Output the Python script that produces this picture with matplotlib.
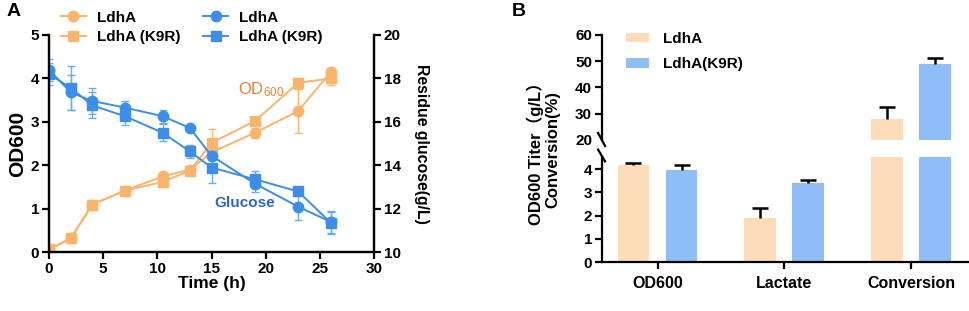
import matplotlib
matplotlib.use('Agg')
import matplotlib.pyplot as plt
from matplotlib.lines import Line2D
from matplotlib.patches import Patch
import numpy as np

plt.rcParams['font.family'] = ['Liberation Sans', 'Noto Sans CJK SC']
plt.rcParams['font.weight'] = 'bold'
plt.rcParams['mathtext.default'] = 'regular'

# ---- Panel A data: growth (OD600) and residual glucose ----
time_h = [0, 2, 4, 7, 10.5, 13, 15, 19, 23, 26]
od_ldha = [0.07, 0.32, 1.1, 1.42, 1.75, 1.9, 2.3, 2.75, 3.25, 4.15]
od_ldha_err = [0.03, 0.05, 0.04, 0.05, 0.06, 0.06, 0.1, 0.12, 0.5, 0.1]
od_k9r = [0.07, 0.32, 1.1, 1.42, 1.62, 1.88, 2.52, 3.02, 3.9, 4.0]
od_k9r_err = [0.03, 0.05, 0.04, 0.05, 0.06, 0.1, 0.32, 0.08, 0.12, 0.15]

glc_ldha = [18.4, 17.36, 16.96, 16.66, 16.26, 15.72, 14.44, 13.16, 12.1, 11.4]
glc_ldha_err = [0.5, 0.8, 0.6, 0.3, 0.3, 0.1, 0.2, 0.4, 0.6, 0.5]
glc_k9r = [18.2, 17.56, 16.76, 16.26, 15.5, 14.64, 13.9, 13.36, 12.8, 11.36]
glc_k9r_err = [0.5, 1.0, 0.6, 0.4, 0.4, 0.3, 0.7, 0.4, 0.1, 0.5]

# ---- Panel B data ----
categories = ['OD600', 'Lactate', 'Conversion']
bar_ldha = [4.17, 1.91, 28.0]
bar_ldha_err = [0.1, 0.4, 4.4]
bar_k9r = [3.96, 3.39, 48.8]
bar_k9r_err = [0.22, 0.13, 2.5]

orange = '#FBB46C'
blue = '#3D8EEB'
peach = '#FDDDB9'
lightblue = '#8EBEF5'

fig = plt.figure(figsize=(9.69, 3.11), dpi=100)

# ================= Panel A =================
ax = fig.add_axes([0.0506, 0.1887, 0.3354, 0.6988])
ax2 = ax.twinx()

for y, e, m in [(od_ldha, od_ldha_err, 'o'), (od_k9r, od_k9r_err, 's')]:
    ax.errorbar(time_h, y, yerr=e, color=orange, marker=m, markersize=7.5,
                linewidth=1.4, elinewidth=1, capsize=3, capthick=1, ecolor=orange)
for y, e, m in [(glc_ldha, glc_ldha_err, 'o'), (glc_k9r, glc_k9r_err, 's')]:
    ax2.errorbar(time_h, y, yerr=e, color=blue, marker=m, markersize=7.5,
                 linewidth=1.4, elinewidth=1, capsize=3, capthick=1,
                 ecolor='#6FAAF0')

ax.set_xlim(0, 30)
ax.set_ylim(0, 5)
ax2.set_ylim(10, 20)
ax.set_xticks(range(0, 31, 5))
ax.set_yticks(range(0, 6))
ax2.set_yticks(range(10, 21, 2))
for a in (ax, ax2):
    for s in a.spines.values():
        s.set_linewidth(1.6)
    a.spines['top'].set_visible(False)
    a.tick_params(width=1.6, length=5, labelsize=11, pad=2)
ax.set_xlabel('Time (h)', fontsize=12.5, fontweight='bold', labelpad=0)
ax.set_ylabel('OD600', fontsize=15, fontweight='bold', labelpad=3)
ax2.set_ylabel('Residue glucose(g/L)', fontsize=11.4, fontweight='bold',
               rotation=270, labelpad=20)

ax.text(17.4, 3.74, 'OD$_{600}$', color='#F08030', fontsize=12,
        fontweight='normal', va='center', ha='left')
ax.text(15.3, 1.14, 'Glucose', color='#2F64C8', fontsize=11,
        fontweight='bold', va='center', ha='left')

handles = [
    Line2D([], [], color=orange, marker='o', markersize=7.5, linewidth=1.4),
    Line2D([], [], color=orange, marker='s', markersize=7.5, linewidth=1.4),
    Line2D([], [], color=blue, marker='o', markersize=7.5, linewidth=1.4),
    Line2D([], [], color=blue, marker='s', markersize=7.5, linewidth=1.4),
]
labels = ['LdhA', 'LdhA (K9R)', 'LdhA', 'LdhA (K9R)']
fig.legend(handles, labels, loc='upper left', bbox_to_anchor=(0.052, 1.0),
           ncol=2, frameon=False, fontsize=11, handlelength=1.6,
           handletextpad=0.75, columnspacing=1.5, labelspacing=0.35,
           borderpad=0.2)

fig.text(0.007, 0.99, 'A', fontsize=14, fontweight='bold', va='top')

# ================= Panel B (broken y axis) =================
axt = fig.add_axes([0.621, 0.5508, 0.378, 0.3367])
axb = fig.add_axes([0.621, 0.1566, 0.378, 0.3386])

x = np.arange(len(categories))
w = 0.25
off = 0.19
for a in (axt, axb):
    a.bar(x - off, bar_ldha, w, color=peach)
    a.bar(x + off, bar_k9r, w, color=lightblue)
    a.set_xlim(-0.44, 2.45)
    for s in a.spines.values():
        s.set_linewidth(1.6)
    a.spines['top'].set_visible(False)
    a.spines['right'].set_visible(False)
    a.tick_params(width=1.6, length=5, labelsize=11, pad=2)


def up_error(a, xs, tops, errs):
    # one-sided (upward) error bars with a cap at the top only
    xs = np.asarray(xs)
    tops = np.asarray(tops)
    ends = tops + np.asarray(errs)
    a.vlines(xs, tops, ends, color='black', linewidth=1.8)
    a.plot(xs, ends, linestyle='none', marker='_', markersize=11,
           markeredgewidth=1.8, color='black')


up_error(axt, [x[2] - off, x[2] + off], [bar_ldha[2], bar_k9r[2]],
         [bar_ldha_err[2], bar_k9r_err[2]])
up_error(axb, x[:2] - off, bar_ldha[:2], bar_ldha_err[:2])
up_error(axb, x[:2] + off, bar_k9r[:2], bar_k9r_err[:2])

axt.set_ylim(20, 60)
axt.set_yticks([20, 30, 40, 50, 60])
axt.yaxis.get_major_ticks()[0].tick1line.set_visible(False)
axt.spines['bottom'].set_visible(False)
axt.tick_params(axis='x', bottom=False, labelbottom=False)

axb.set_ylim(0, 4.52)
axb.set_yticks(range(0, 5))
axb.set_xticks(x)
axb.set_xticklabels(categories, fontsize=11.5)
axb.tick_params(axis='x', pad=5)

# break marks
kw = dict(color='black', linewidth=1.6, clip_on=False)
axt.plot([-0.010, 0.009], [0.064, -0.06], transform=axt.transAxes, **kw)
axb.plot([-0.010, 0.009], [1.07, 0.958], transform=axb.transAxes, **kw)

fig.text(0.561, 0.518, 'OD600 Titer（g/L）\nConversion(%)', rotation=90,
         fontsize=12, fontweight='bold', ha='center', va='center',
         multialignment='center', linespacing=1.15)

leg_handles = [Patch(facecolor=peach), Patch(facecolor=lightblue)]
axt.legend(leg_handles, ['LdhA', 'LdhA(K9R)'], loc='upper left',
           bbox_to_anchor=(0.03, 1.16), frameon=False, fontsize=11,
           handlelength=1.45, handleheight=0.55, handletextpad=0.95,
           labelspacing=0.75)

fig.text(0.528, 0.99, 'B', fontsize=14, fontweight='bold', va='top')

fig.savefig('out.png', dpi=100)
